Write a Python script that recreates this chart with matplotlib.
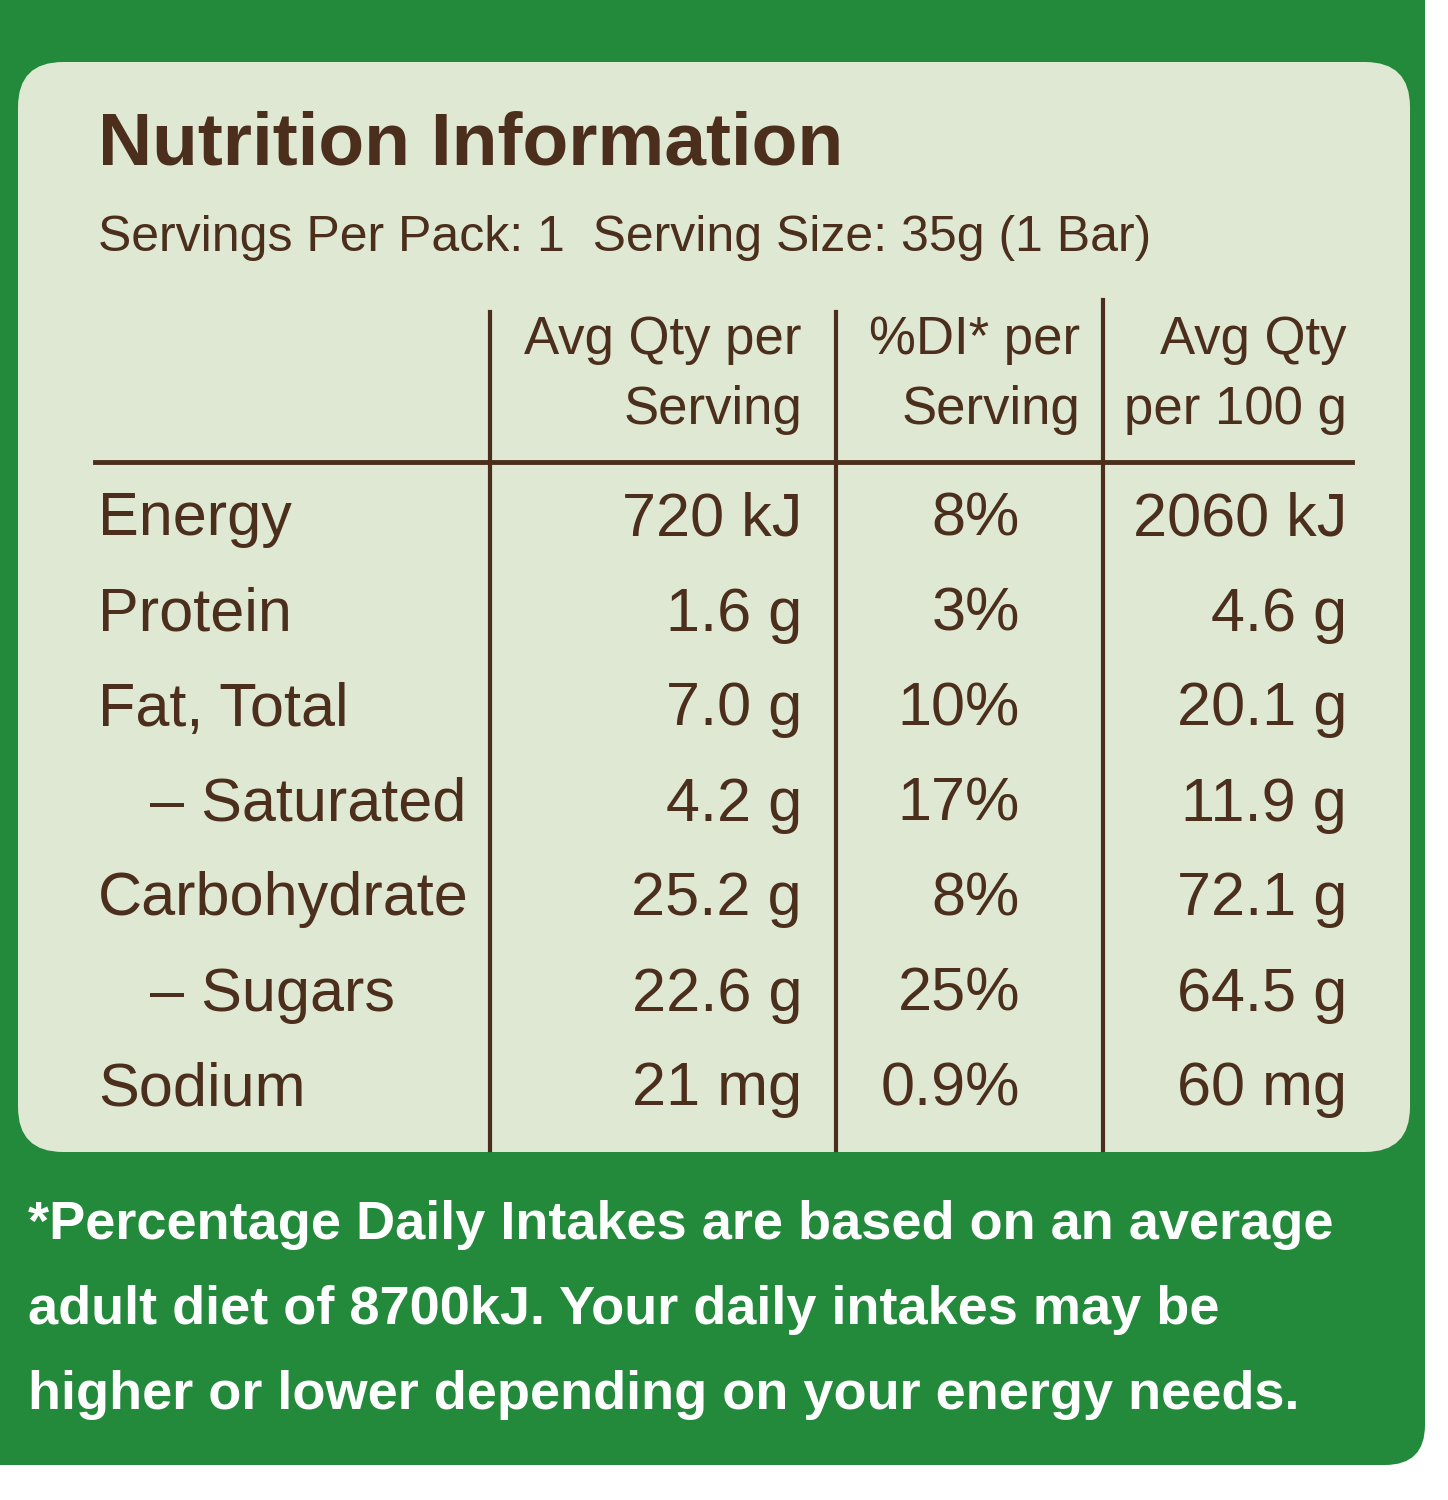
import matplotlib
matplotlib.use("Agg")
import matplotlib.pyplot as plt
from matplotlib.patches import FancyBboxPatch

title = "Nutrition Information"
subtitle = "Servings Per Pack: 1  Serving Size: 35g (1 Bar)"
headers = [("Avg Qty per", "Serving"), ("%DI* per", "Serving"), ("Avg Qty", "per 100 g")]
nutrients = ["Energy", "Protein", "Fat, Total", "– Saturated", "Carbohydrate", "– Sugars", "Sodium"]
per_serving = ["720 kJ", "1.6 g", "7.0 g", "4.2 g", "25.2 g", "22.6 g", "21 mg"]
di_pct = ["8%", "3%", "10%", "17%", "8%", "25%", "0.9%"]
per_100g = ["2060 kJ", "4.6 g", "20.1 g", "11.9 g", "72.1 g", "64.5 g", "60 mg"]
footnote = ["*Percentage Daily Intakes are based on an average",
            "adult diet of 8700kJ. Your daily intakes may be",
            "higher or lower depending on your energy needs."]

fam = ["Liberation Sans", "DejaVu Sans"]
brown = "#4b2e1c"
green = "#23893b"
panel = "#dfe8d2"

fig = plt.figure(figsize=(14.48, 15), dpi=100)
fig.patch.set_facecolor("white")
ax = fig.add_axes([0, 0, 1, 1])
ax.set_xlim(0, 1448); ax.set_ylim(1500, 0); ax.axis("off")

ax.add_patch(FancyBboxPatch((-40, -40), 1465, 1505, boxstyle="round,pad=0,rounding_size=40",
                            fc=green, ec="none"))
ax.add_patch(FancyBboxPatch((18, 62), 1392, 1090, boxstyle="round,pad=0,rounding_size=45",
                            fc=panel, ec="none"))

ax.text(98, 145, title, fontsize=54, fontweight="bold", color=brown, family=fam, va="center", ha="left")
ax.text(98, 238, subtitle, fontsize=36, color=brown, family=fam, va="center", ha="left")

col_right = [802, 1080, 1347]
for (h1, h2), xr in zip(headers, col_right):
    ax.text(xr, 340, h1, fontsize=38, color=brown, family=fam, va="center", ha="right")
    ax.text(xr, 410, h2, fontsize=38, color=brown, family=fam, va="center", ha="right")

ax.plot([95, 1352], [462, 462], color=brown, lw=3.5)
for x, y0 in [(490, 312), (836, 312), (1103, 300)]:
    ax.plot([x, x], [y0, 1150], color=brown, lw=3)

row_y = [520, 615, 710, 805, 900, 995, 1090]
val_right = [802, 1020, 1347]
for i, y in enumerate(row_y):
    name = nutrients[i]
    x0 = 150 if name.startswith("–") else 98
    ax.text(x0, y, name, fontsize=44, color=brown, family=fam, va="center", ha="left")
    for xr, col in zip(val_right, [per_serving, di_pct, per_100g]):
        ax.text(xr, y, col[i], fontsize=44, color=brown, family=fam, va="center", ha="right")

for j, line in enumerate(footnote):
    ax.text(28, 1225 + 85 * j, line, fontsize=39, fontweight="bold", color="white",
            family=fam, va="center", ha="left")

fig.savefig("out.png", dpi=100, facecolor=fig.get_facecolor())
